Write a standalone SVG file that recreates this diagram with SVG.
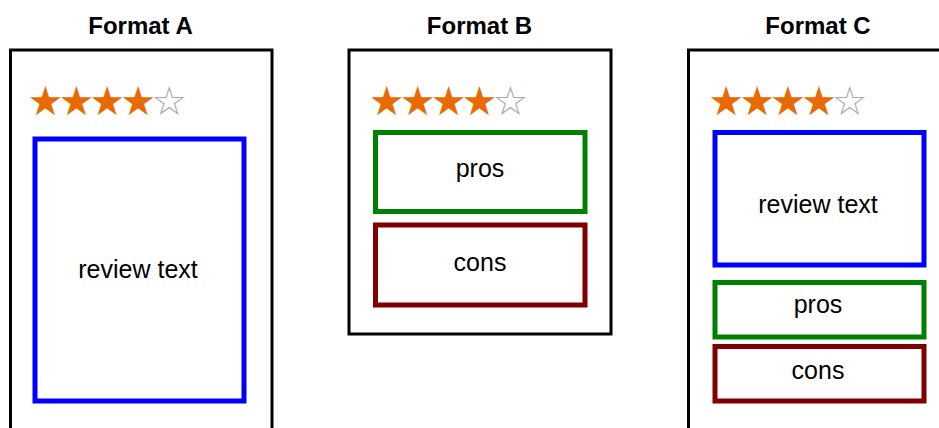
<svg xmlns="http://www.w3.org/2000/svg" width="939" height="428" viewBox="0 0 939 428">
  <style>
    .title { font-family: "Liberation Sans", Arial, sans-serif; font-weight: bold; font-size: 24px; text-anchor: middle; fill: #000; }
    .label { font-family: "Liberation Sans", Arial, sans-serif; font-size: 25px; text-anchor: middle; fill: #000; }
    .frame { fill: #fff; stroke: #000; stroke-width: 3; }
    .review { fill: none; stroke: #0000ff; stroke-width: 5; }
    .pros { fill: none; stroke: #008000; stroke-width: 5; }
    .cons { fill: none; stroke: #800000; stroke-width: 5; }
    .stars { font-family: "DejaVu Sans", sans-serif; font-size: 40px; text-anchor: middle; }
    .on { fill: #e86a00; }
    .off { fill: #aaa; }
  </style>
  <rect width="939" height="428" fill="#fff"/>

  <!-- Format A: stars + review text -->
  <g id="format-a">
    <text class="title" x="140.5" y="34">Format A</text>
    <rect class="frame" x="10.5" y="50" width="261.5" height="400"/>
    <text class="stars" y="114.5"><tspan class="on" x="45.5 76.4 107.3 138.2">★★★★</tspan><tspan class="off" x="169.1">☆</tspan></text>
    <g id="a-review">
      <rect class="review" x="35" y="139" width="209" height="262"/>
      <text class="label" x="138" y="278.3">review text</text>
    </g>
  </g>

  <!-- Format B: stars + pros + cons -->
  <g id="format-b">
    <text class="title" x="479.5" y="34">Format B</text>
    <rect class="frame" x="349" y="50" width="262" height="284"/>
    <text class="stars" y="114.5"><tspan class="on" x="386.8 417.7 448.6 479.5">★★★★</tspan><tspan class="off" x="510.4">☆</tspan></text>
    <g id="b-pros">
      <rect class="pros" x="375.5" y="132.5" width="209.5" height="79"/>
      <text class="label" x="480" y="176.7">pros</text>
    </g>
    <g id="b-cons">
      <rect class="cons" x="375.5" y="225" width="209.5" height="80"/>
      <text class="label" x="480" y="270.5">cons</text>
    </g>
  </g>

  <!-- Format C: stars + review text + pros + cons -->
  <g id="format-c">
    <text class="title" x="818" y="34">Format C</text>
    <rect class="frame" x="688.5" y="50" width="262" height="400"/>
    <text class="stars" y="114.5"><tspan class="on" x="726.2 757.1 788 818.9">★★★★</tspan><tspan class="off" x="849.8">☆</tspan></text>
    <g id="c-review">
      <rect class="review" x="715" y="132.5" width="209" height="132.5"/>
      <text class="label" x="818" y="213">review text</text>
    </g>
    <g id="c-pros">
      <rect class="pros" x="715" y="282.5" width="209" height="54.5"/>
      <text class="label" x="818" y="313.3">pros</text>
    </g>
    <g id="c-cons">
      <rect class="cons" x="715" y="346.5" width="209" height="54.5"/>
      <text class="label" x="818" y="379.3">cons</text>
    </g>
  </g>

  <g id="connectors"/>
</svg>
